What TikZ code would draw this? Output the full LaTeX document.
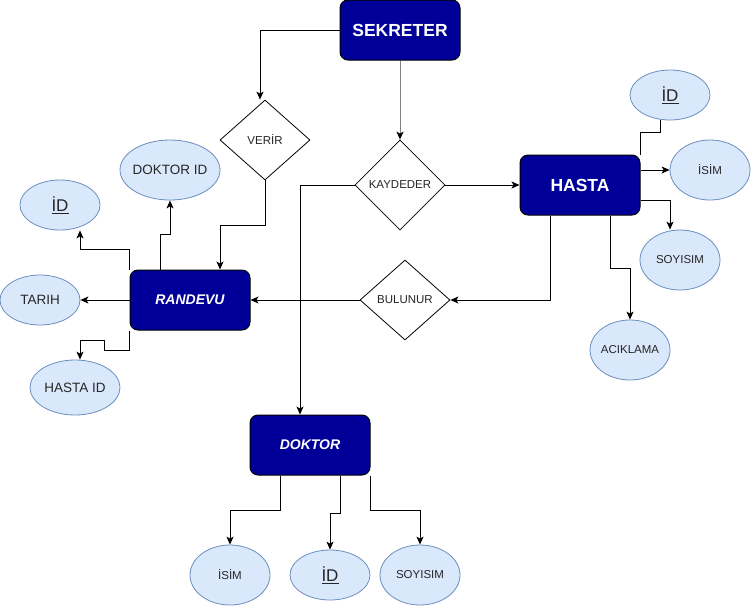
\documentclass[tikz,border=0pt]{standalone}
\usepackage{fontspec}
\setmainfont{Liberation Sans}
\usetikzlibrary{shapes.geometric,arrows.meta}
\definecolor{entblue}{HTML}{000099}
\definecolor{attfill}{HTML}{DAE8FC}
\definecolor{attline}{HTML}{6C8EBF}
\definecolor{lgray}{HTML}{808080}
\tikzset{
  ent/.style={draw=black, fill=entblue, rounded corners=8pt, line width=1pt,
    minimum width=120pt, minimum height=60pt, inner sep=0pt, text=white},
  att/.style={ellipse, draw=attline, fill=attfill, line width=0.8pt, inner ysep=0pt, inner xsep=-15pt, text=black!85},
  rel/.style={diamond, draw=black, fill=white, line width=0.8pt, inner sep=0pt,
    minimum width=90pt, minimum height=80pt, text=black!85, font=\fontsize{11.5}{13}\selectfont},
  conn/.style={line width=1pt, draw=black},
  arr/.style={conn, -{Stealth[length=8pt,width=7pt,inset=2pt,color=black]}},
  small/.style={font=\fontsize{11.5}{13}\selectfont},
  mid/.style={font=\fontsize{13.5}{15}\selectfont},
  idf/.style={font=\fontsize{17}{19}\selectfont},
}
\begin{document}
\begin{tikzpicture}[x=1pt,y=-1pt]
\useasboundingbox (0,0) rectangle (751,606);
% entities
\node[ent, font=\bfseries\fontsize{17.5}{19}\selectfont] (sek) at (400,30) {SEKRETER};
\node[ent, font=\bfseries\fontsize{17.5}{19}\selectfont] (hasta) at (580,185) {HASTA};
\node[ent, font=\bfseries\itshape\fontsize{14}{16}\selectfont] (ran) at (190,300) {RANDEVU};
\node[ent, font=\bfseries\itshape\fontsize{14}{16}\selectfont] (dok) at (310,445) {DOKTOR};
% relations
\node[rel] (verir) at (265,140) {VERİR};
\node[rel, minimum height=90pt] (kay) at (400,185) {KAYDEDER};
\node[rel] (bul) at (405,300) {BULUNUR};
% HASTA attributes
\node[att, idf, minimum width=80pt, minimum height=50pt] (hid) at (670,95) {\underline{İD}};
\node[att, small, minimum width=80pt, minimum height=60pt] (hisim) at (710,170) {İSİM};
\node[att, small, minimum width=80pt, minimum height=60pt] (hsoy) at (680,260) {SOYISIM};
\node[att, small, minimum width=80pt, minimum height=60pt] (acik) at (630,350) {ACIKLAMA};
% RANDEVU attributes
\node[att, idf, minimum width=80pt, minimum height=50pt] (rid) at (60,205) {\underline{İD}};
\node[att, mid, minimum width=100pt, minimum height=60pt] (rdid) at (170,170) {DOKTOR ID};
\node[att, mid, minimum width=80pt, minimum height=50pt] (tarih) at (40,300) {TARIH};
\node[att, mid, minimum width=90pt, minimum height=55pt] (rhid) at (75,387.5) {HASTA ID};
% DOKTOR attributes
\node[att, small, minimum width=80pt, minimum height=60pt] (disim) at (230,575) {İSİM};
\node[att, idf, minimum width=80pt, minimum height=50pt] (did) at (330,575) {\underline{İD}};
\node[att, small, minimum width=80pt, minimum height=60pt] (dsoy) at (420,575) {SOYISIM};
% connectors
\draw[arr] (sek.west) -| ([xshift=-5pt]verir.north);
\draw[arr, draw=lgray] (sek.south) -- (kay.north);
\draw[arr] (kay.east) -- (hasta.west);
\draw[arr] (kay.west) -| ([xshift=-10pt]dok.north);
\draw[arr] ([xshift=-30pt]hasta.south) |- (bul.east);
\draw[arr] (bul.west) -- (ran.east);
\draw[arr] (verir.south) -- ++(0,45) -| ([xshift=30pt]ran.north);
\draw[conn] (hasta.north east) -- ++(0,-22) -| ([xshift=-10pt]hid.south);
\draw[arr] ([yshift=15pt]hasta.east) -- (hisim.west);
\draw[arr] ([yshift=-15pt]hasta.east) -| ([xshift=-10pt]hsoy.north);
\draw[arr] ([xshift=30pt]hasta.south) -- ++(0,53) -| (acik.north);
\draw[arr] (ran.north west) -- ++(0,-20) -| ([xshift=20pt]rid.south);
\draw[arr] ([xshift=-30pt]ran.north) -- ++(0,-35) -| (rdid.south);
\draw[arr] (ran.west) -- (tarih.east);
\draw[arr] (ran.south west) -- ++(0,20) -- ++(-25,0) -- ++(0,-10) -| ([xshift=5pt]rhid.north);
\draw[arr] ([xshift=-30pt]dok.south) -- ++(0,35) -| (disim.north);
\draw[arr] ([xshift=30pt]dok.south) -- ++(0,38) -| (did.north);
\draw[arr] (dok.south east) -- ++(0,35) -| (dsoy.north);
\end{tikzpicture}
\end{document}
